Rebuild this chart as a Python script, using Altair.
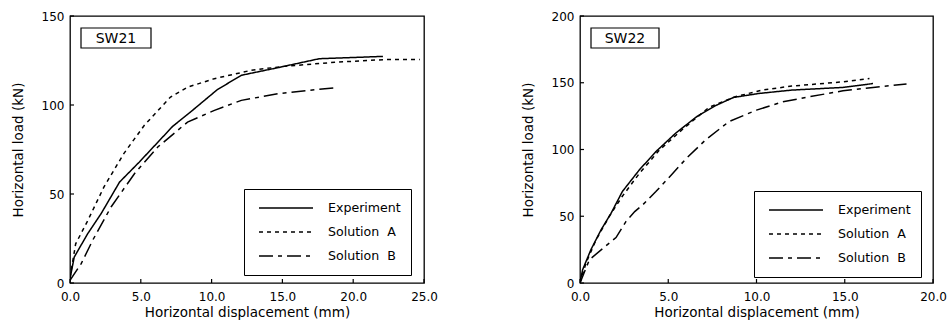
import altair as alt
import pandas as pd

FONT = "DejaVu Sans"

series = ["Experiment", "Solution\u00a0\u00a0A", "Solution\u00a0\u00a0B"]
dashes = [[1, 0], [4, 4], [14, 5, 4, 5]]

# SW21
sw21_exp_x = [0, 0.3, 1.25, 2.2, 3.5, 4.9, 7.25, 8.5, 10.4, 12.1, 14.7, 17.6, 22.1]
sw21_exp_y = [2.4, 14.6, 27.7, 39, 56.7, 68, 88, 96, 108.6, 116.7, 121, 126, 127.3]
sw21_a_x = [0, 0.4, 1.25, 2.4, 3.8, 5.25, 7.1, 8.3, 10.2, 12.8, 15.1, 18.7, 22.2, 24.7]
sw21_a_y = [3, 22, 35, 54, 72.7, 88.6, 104.5, 110, 114.8, 119.5, 121.7, 124, 125.5, 125.5]
sw21_b_x = [0, 0.8, 1.6, 2.9, 4.55, 6.2, 8.3, 10.2, 12.1, 14.7, 18.7]
sw21_b_y = [1.5, 11, 24, 42.7, 61.4, 76.4, 90.4, 97, 102.6, 106.4, 109.7]

# SW22
sw22_exp_x = [0, 0.15, 0.62, 1.2, 1.75, 2.4, 3.36, 4.3, 5.4, 6.6, 7.7, 8.7, 10.15, 12, 14.9, 16.6]
sw22_exp_y = [0.5, 10, 25, 40, 52, 68.5, 84.7, 98.4, 112, 124.5, 133, 139, 142, 144.5, 146.5, 149.4]
sw22_a_x = [0, 0.34, 0.9, 1.66, 2.4, 3.36, 4.5, 5.8, 7.3, 8.8, 10.3, 12, 14.9, 16.4]
sw22_a_y = [0, 15, 32, 50, 65, 82, 99.6, 115, 131.5, 139.5, 144.5, 147.5, 150.7, 153.2]
sw22_b_x = [0, 0.53, 1.3, 2.04, 2.6, 3.1, 3.55, 4.3, 5.25, 6.0, 7.1, 8.45, 10, 11.5, 13, 14.9, 16.6, 18.5]
sw22_b_y = [0, 17.4, 26, 34, 46, 53.5, 58.5, 68.5, 82, 93, 107, 121, 129.5, 135.7, 139.5, 144, 146.5, 149]

sw21_xticks = [0, 5, 10, 15, 20, 25]
sw21_yticks = [0, 50, 100, 150]
sw22_xticks = [0, 5, 10, 15, 20]
sw22_yticks = [0, 50, 100, 150, 200]


def frame(xs_list, ys_list):
    rows = []
    for name, xs, ys in zip(series, xs_list, ys_list):
        for i, (a, b) in enumerate(zip(xs, ys)):
            rows.append({"series": name, "disp": a, "load": b, "idx": i})
    return pd.DataFrame(rows)


def panel(df, name, xmax, ymax, xticks, yticks, legx, legy, boxw, w, h):
    xs = alt.Scale(domain=[0, xmax], nice=False, zero=True)
    ys = alt.Scale(domain=[0, ymax], nice=False, zero=True)
    lines = alt.Chart(df).mark_line(color="black", strokeWidth=1.5, clip=True).encode(
        x=alt.X("disp:Q", scale=xs, axis=alt.Axis(
            values=xticks, format=".1f", title="Horizontal displacement (mm)",
            ticks=False, domain=False, grid=False, labelPadding=8, titlePadding=3,
            labelFlush=False, labelOverlap=False,
            labelFont=FONT, labelFontSize=12, labelColor="black",
            titleFont=FONT, titleFontSize=13.5, titleFontWeight="normal", titleColor="black")),
        y=alt.Y("load:Q", scale=ys, axis=alt.Axis(
            values=yticks, format="d", title="Horizontal load (kN)",
            ticks=False, domain=False, grid=False, labelPadding=6, titlePadding=16,
            labelFlush=False, labelOverlap=False,
            labelFont=FONT, labelFontSize=12, labelColor="black",
            titleFont=FONT, titleFontSize=13.5, titleFontWeight="normal", titleColor="black")),
        strokeDash=alt.StrokeDash("series:N", scale=alt.Scale(domain=series, range=dashes),
                                  legend=alt.Legend(
                                      orient="none", legendX=legx, legendY=legy, title=None,
                                      symbolType="stroke", symbolSize=2916, symbolStrokeWidth=1.6,
                                      symbolStrokeColor="black", clipHeight=18, rowPadding=6,
                                      padding=10, strokeColor="black", fillColor="white",
                                      labelFont=FONT, labelFontSize=12.6, labelColor="black",
                                      labelOffset=14, symbolOffset=4)),
        order="idx:Q",
    )
    xt = pd.DataFrame({"t": xticks})
    yt = pd.DataFrame({"t": yticks})
    xtick = alt.Chart(xt).mark_rule(color="black", strokeWidth=1.2).encode(
        x=alt.X("t:Q", scale=xs), y=alt.value(h - 4), y2=alt.value(h))
    ytick = alt.Chart(yt).mark_rule(color="black", strokeWidth=1.2).encode(
        y=alt.Y("t:Q", scale=ys), x=alt.value(0), x2=alt.value(4))
    lab = pd.DataFrame({"label": [name]})
    box = alt.Chart(lab).mark_rect(fill="white", stroke="black", strokeWidth=1.2).encode(
        x=alt.value(11), x2=alt.value(11 + boxw), y=alt.value(12), y2=alt.value(32))
    txt = alt.Chart(lab).mark_text(font=FONT, fontSize=14, color="black").encode(
        x=alt.value(11 + boxw / 2), y=alt.value(22.5), text="label:N")
    return alt.layer(lines, xtick, ytick, box, txt).properties(width=w, height=h)


df21 = frame([sw21_exp_x, sw21_a_x, sw21_b_x], [sw21_exp_y, sw21_a_y, sw21_b_y])
df22 = frame([sw22_exp_x, sw22_a_x, sw22_b_x], [sw22_exp_y, sw22_a_y, sw22_b_y])

left = panel(df21, "SW21", 25, 150, sw21_xticks, sw21_yticks, 174, 173, 70, 354, 267)
right = panel(df22, "SW22", 20, 200, sw22_xticks, sw22_yticks, 174, 175, 68, 353, 267)

chart = alt.hconcat(left, right, spacing=156, bounds="flush").resolve_scale(
    strokeDash="independent").resolve_legend(strokeDash="independent").configure_view(
    stroke="black", strokeWidth=1.3).properties(
    padding={"left": 10, "top": 9, "right": 0, "bottom": 0}, background="white")

chart.save("out.html", embed_options={"renderer": "svg", "actions": False})
